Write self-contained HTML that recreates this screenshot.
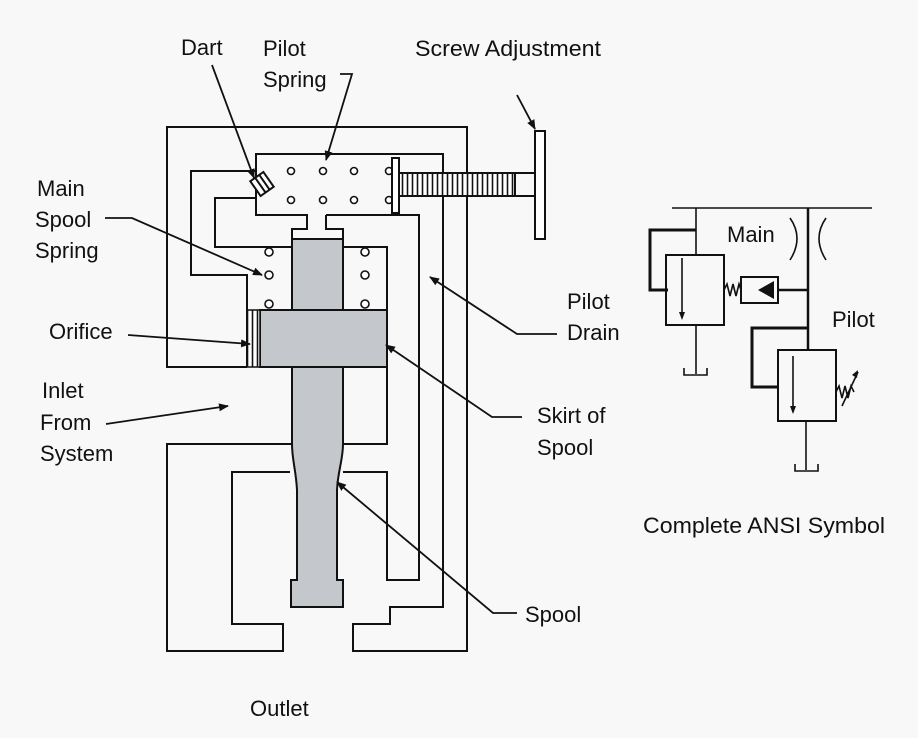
<!DOCTYPE html>
<html><head><style>html,body{margin:0;padding:0;background:#f8f8f8}svg{display:block}</style></head>
<body>
<svg width="918" height="738" viewBox="0 0 918 738" xmlns="http://www.w3.org/2000/svg" font-family="Liberation Sans, sans-serif" font-size="22" fill="#111">
<defs><marker id="a" markerWidth="10" markerHeight="8" refX="9" refY="4" orient="auto" markerUnits="userSpaceOnUse"><path d="M0,0 L10,4 L0,8 z" fill="#111"/></marker>
<pattern id="h" width="5" height="20" patternUnits="userSpaceOnUse"><rect width="5" height="20" fill="#fff"/><line x1="2.5" y1="0" x2="2.5" y2="20" stroke="#111" stroke-width="1.6"/></pattern></defs>
<rect width="918" height="738" fill="#f8f8f8"/>
<g fill="none" stroke="#111" stroke-width="2">
<polyline points="247,367 167,367 167,127 467,127 467,651 353,651 353,624 390,624 390,607 443,607 443,154 256,154 256,215 307,215 307,229 292,229 292,247 215,247 215,198 256,198"/>
<polyline points="256,171 191,171 191,275 247,275 247,367"/>
<polyline points="326,215 326,229 343,229 343,247 387,247 387,444 343,444"/>
<polyline points="326,215 419,215 419,580 387,580 387,472 343,472"/>
<polyline points="292,444 167,444 167,651 283,651 283,624 232,624 232,472 290,472"/>
</g>
<path d="M292,239 H343 V444 C343,460 338,470 337,490 V580 H343 V607 H291 V580 H297 V490 C296,470 292,460 292,444 Z" fill="#c4c7cc" stroke="#111" stroke-width="2"/>
<rect x="260" y="310" width="127" height="57" fill="#c4c7cc" stroke="#111" stroke-width="2"/>
<rect x="247" y="310" width="13" height="57" fill="url(#h)" stroke="#111" stroke-width="1.5"/>
<g fill="#fff" stroke="#111" stroke-width="1.6">
<circle cx="269" cy="252" r="4"/><circle cx="269" cy="275" r="4"/><circle cx="269" cy="304" r="4"/>
<circle cx="365" cy="252" r="4"/><circle cx="365" cy="275" r="4"/><circle cx="365" cy="304" r="4"/>
<circle cx="291" cy="171" r="3.5"/><circle cx="323" cy="171" r="3.5"/><circle cx="354" cy="171" r="3.5"/><circle cx="389" cy="171" r="3.5"/>
<circle cx="291" cy="200" r="3.5"/><circle cx="323" cy="200" r="3.5"/><circle cx="354" cy="200" r="3.5"/><circle cx="389" cy="200" r="3.5"/>
</g>
<g transform="translate(262,184) rotate(-35)"><rect x="-8" y="-9" width="16" height="18" fill="#fff" stroke="#111" stroke-width="2"/><line x1="-2" y1="-9" x2="-2" y2="9" stroke="#111" stroke-width="2"/><line x1="3" y1="-9" x2="3" y2="9" stroke="#111" stroke-width="2"/></g>
<rect x="392" y="158" width="7" height="55" fill="#fff" stroke="#111" stroke-width="2"/>
<rect x="399" y="173" width="116" height="23" fill="url(#h)" stroke="#111" stroke-width="2"/>
<line x1="515" y1="173" x2="535" y2="173" stroke="#111" stroke-width="2"/><line x1="515" y1="196" x2="535" y2="196" stroke="#111" stroke-width="2"/>
<rect x="535" y="131" width="10" height="108" fill="#fff" stroke="#111" stroke-width="2"/>
<g fill="none" stroke="#111" stroke-width="1.8" marker-end="url(#a)">
<line x1="212" y1="65" x2="254" y2="178"/>
<polyline points="340,74 352,74 326,160"/>
<line x1="517" y1="95" x2="535" y2="129"/>
<polyline points="105,218 132,218 262,275"/>
<line x1="128" y1="335" x2="250" y2="344"/>
<line x1="106" y1="424" x2="228" y2="406"/>
<polyline points="557,334 517,334 430,277"/>
<polyline points="522,417 492,417 386,345"/>
<polyline points="517,613 493,613 337,482"/>
</g>
<text x="181" y="55">Dart</text>
<text x="263" y="56">Pilot</text><text x="263" y="87">Spring</text>
<text x="415" y="56" textLength="186" lengthAdjust="spacingAndGlyphs">Screw Adjustment</text>
<text x="37" y="196">Main</text><text x="35" y="227">Spool</text><text x="35" y="258">Spring</text>
<text x="49" y="339">Orifice</text>
<text x="42" y="398">Inlet</text><text x="40" y="430">From</text><text x="40" y="461">System</text>
<text x="567" y="309">Pilot</text><text x="567" y="340">Drain</text>
<text x="537" y="423">Skirt of</text><text x="537" y="455">Spool</text>
<text x="525" y="622">Spool</text>
<text x="250" y="716">Outlet</text>
<text x="643" y="533" textLength="242" lengthAdjust="spacingAndGlyphs">Complete ANSI Symbol</text>
<text x="727" y="242">Main</text>
<text x="832" y="327">Pilot</text>
<g fill="none" stroke="#111" stroke-width="1.6">
<line x1="672" y1="208" x2="872" y2="208"/>
<line x1="696" y1="208" x2="696" y2="255"/>
<polyline points="696,230 650,230 650,290 668,290" stroke-width="3"/>
<rect x="666" y="255" width="58" height="70" stroke-width="2"/>
<line x1="696" y1="325" x2="696" y2="374"/>
<polyline points="684,368 684,375 707,375 707,368"/>
<line x1="682" y1="258" x2="682" y2="318"/>
<path d="M724,290 l3,-6 l3,12 l3,-12 l3,12 l3,-12 l2,6"/>
<rect x="741" y="277" width="37" height="26" stroke-width="2"/>
<line x1="778" y1="290" x2="808" y2="290" stroke-width="2.5"/>
<line x1="808" y1="208" x2="808" y2="350" stroke-width="2.5"/>
<path d="M790,218 Q804,238 790,260"/><path d="M826,218 Q812,238 826,260"/>
<polyline points="808,328 752,328 752,387 778,387" stroke-width="3"/>
<rect x="778" y="350" width="58" height="71" stroke-width="2"/>
<line x1="793" y1="356" x2="793" y2="412"/>
<line x1="806" y1="421" x2="806" y2="470"/>
<polyline points="795,464 795,471 818,471 818,464"/>
<path d="M836,392 l3,-6 l3,12 l3,-12 l3,12 l3,-12 l3,6"/>
<line x1="842" y1="406" x2="858" y2="372"/>
</g>
<path d="M682,320 l-3,-8 h6 z" fill="#111"/>
<path d="M793,414 l-3,-8 h6 z" fill="#111"/>
<path d="M758,290 L774,281 V299 Z" fill="#111"/>
<path d="M858,370 l-1,8 -5,-3 z" fill="#111"/>
</svg>
</body></html>
